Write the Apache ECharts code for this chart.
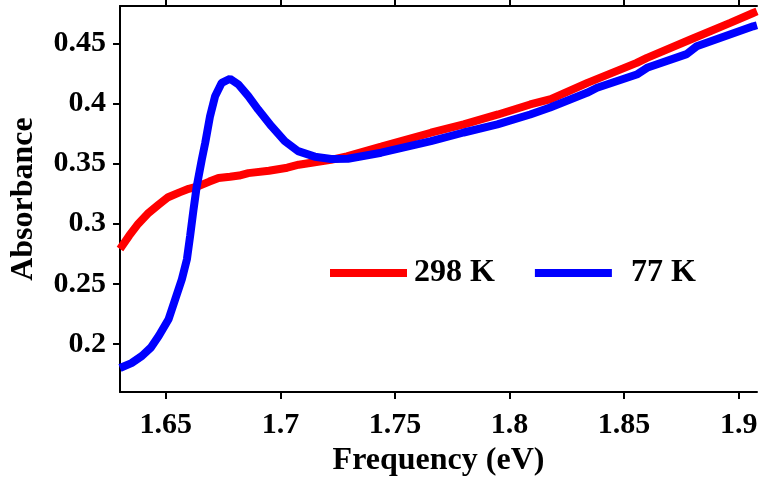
<!DOCTYPE html>
<html>
<head>
<meta charset="utf-8">
<script src="https://cdn.jsdelivr.net/npm/echarts@6/dist/echarts.min.js"></script>
<style>
html,body{margin:0;padding:0;background:#fff;}
#chart{width:759px;height:477px;}
</style>
</head>
<body>
<div id="chart"></div>
<script>
const seriesNames = ['298 K', '77 K'];
const x298 = [1.630,1.634,1.638,1.6425,1.647,1.651,1.656,1.660,1.664,1.669,1.673,1.678,1.682,1.686,1.695,1.703,1.708,1.715,1.722,1.729,1.744,1.7657,1.780,1.795,1.809,1.818,1.834,1.8555,1.860,1.880,1.8963,1.9063,1.908];
const y298 = [0.279,0.290,0.300,0.309,0.316,0.322,0.326,0.329,0.331,0.335,0.338,0.339,0.340,0.342,0.344,0.3465,0.349,0.351,0.353,0.356,0.364,0.3756,0.3825,0.3908,0.3991,0.4035,0.4171,0.4337,0.4379,0.454,0.467,0.4752,0.4765];
const x77 = [1.630,1.635,1.6396,1.6435,1.6469,1.6512,1.6541,1.657,1.6592,1.6606,1.6621,1.6635,1.6657,1.6672,1.6693,1.6715,1.6744,1.678,1.6817,1.686,1.6903,1.6961,1.7019,1.7077,1.715,1.7222,1.7295,1.744,1.7657,1.780,1.7947,1.809,1.8177,1.8338,1.8382,1.8555,1.860,1.8773,1.8817,1.9063,1.908];
const y77 = [0.180,0.184,0.190,0.197,0.2066,0.2205,0.2371,0.2537,0.2703,0.2897,0.3119,0.3312,0.3534,0.3673,0.3894,0.406,0.4171,0.4205,0.4157,0.406,0.3949,0.3811,0.3686,0.3603,0.3557,0.3538,0.354,0.359,0.3686,0.3758,0.3825,0.3908,0.3966,0.4088,0.413,0.424,0.4296,0.441,0.4475,0.4641,0.465];
const xTicks = [1.65, 1.7, 1.75, 1.8, 1.85, 1.9];
const xTickLabels = ['1.65', '1.7', '1.75', '1.8', '1.85', '1.9'];
const yTicks = [0.2, 0.25, 0.3, 0.35, 0.4, 0.45];
const yTickLabels = ['0.2', '0.25', '0.3', '0.35', '0.4', '0.45'];
const xRange = [1.63, 1.908];
const yRange = [0.16, 0.481];

const font = 'Liberation Serif';
function pairs(xs, ys){ return xs.map((v,i)=>[v, ys[i]]); }
function labelFor(ticks, labels){ return v => { const i = ticks.findIndex(t => Math.abs(t - v) < 1e-6); return i >= 0 ? labels[i] : ''; }; }

const chart = echarts.init(document.getElementById('chart'), null, {renderer:'canvas'});
const axisLine = {show:true, lineStyle:{color:'#000', width:2}};
chart.setOption({
  animation:false,
  backgroundColor:'#fff',
  grid:{left:120, top:6, right:2, bottom:85, containLabel:false, outerBoundsMode:'none'},
  legend:{
    left:325, top:252, icon:'rect', itemWidth:77, itemHeight:8, itemGap:40,
    textStyle:{fontFamily:font, fontWeight:'bold', fontSize:32, color:'#000', padding:[0,0,0,0]},
    data:[{name:seriesNames[0], textStyle:{padding:[0,0,0,2]}}, {name:seriesNames[1], textStyle:{padding:[0,0,0,14]}}]
  },
  xAxis:[{
    type:'value', min:xRange[0], max:xRange[1], position:'bottom',
    name:'Frequency (eV)', nameLocation:'middle', nameGap:53,
    nameTextStyle:{fontFamily:font, fontWeight:'bold', fontSize:32, color:'#000'},
    axisLine:axisLine,
    axisTick:{show:true, customValues:xTicks, length:7, lineStyle:{color:'#000', width:2}},
    axisLabel:{show:true, customValues:xTicks, formatter:labelFor(xTicks, xTickLabels), margin:18,
      fontFamily:font, fontWeight:'bold', fontSize:30, color:'#000'},
    splitLine:{show:false}
  },{
    type:'value', min:xRange[0], max:xRange[1], position:'top',
    axisLine:axisLine,
    axisTick:{show:true, customValues:xTicks, length:7, lineStyle:{color:'#000', width:2}},
    axisLabel:{show:false},
    splitLine:{show:false}
  }],
  yAxis:{
    type:'value', min:yRange[0], max:yRange[1],
    name:'Absorbance', nameLocation:'middle', nameGap:80, nameRotate:90,
    nameTextStyle:{fontFamily:font, fontWeight:'bold', fontSize:32, color:'#000'},
    axisLine:axisLine,
    axisTick:{show:true, customValues:yTicks, length:7, lineStyle:{color:'#000', width:2}},
    axisLabel:{show:true, customValues:yTicks, formatter:labelFor(yTicks, yTickLabels), margin:14,
      fontFamily:font, fontWeight:'bold', fontSize:30, color:'#000'},
    splitLine:{show:false}
  },
  series:[
    {name:seriesNames[0], type:'line', xAxisIndex:0, data:pairs(x298, y298), showSymbol:false, symbol:'none',
      lineStyle:{color:'#ff0000', width:8}, itemStyle:{color:'#ff0000'}, z:2},
    {name:seriesNames[1], type:'line', xAxisIndex:0, data:pairs(x77, y77), showSymbol:false, symbol:'none',
      lineStyle:{color:'#0000ff', width:8}, itemStyle:{color:'#0000ff'}, z:3}
  ]
});
</script>
</body>
</html>
